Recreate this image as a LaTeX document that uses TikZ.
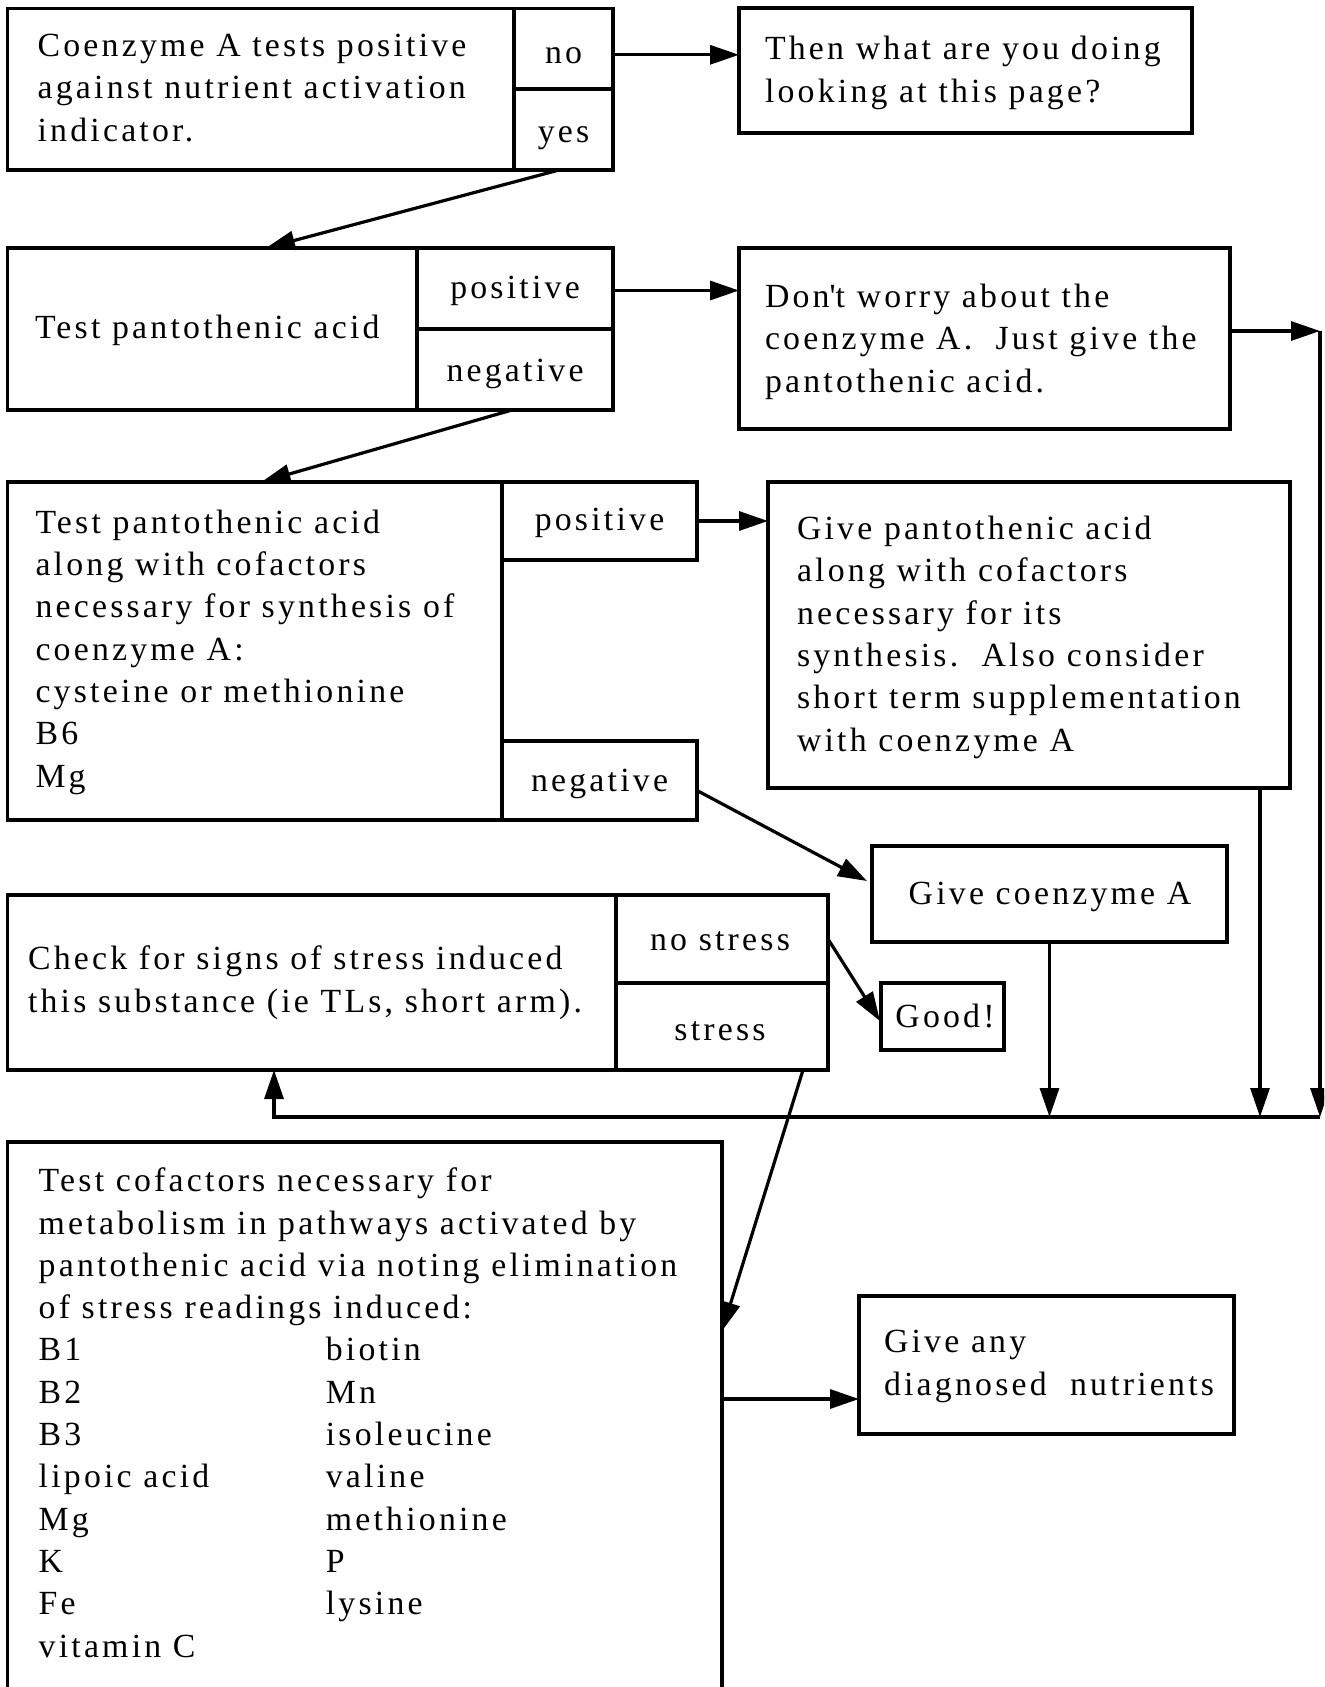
\documentclass[tikz,border=0pt]{standalone}
\usepackage{fontspec}
\setmainfont{Liberation Serif}[LetterSpace=9.5]
\usetikzlibrary{arrows.meta,calc,fit}

% two-column entry for the cofactor list
\newcommand\pairline[2]{\makebox[143.6pt][l]{#1}#2}

\begin{document}
\begin{tikzpicture}[x=0.5pt,y=-0.5pt,
  box/.style={draw, line width=1.6pt, inner sep=0pt, outer sep=0pt},
  % multi-line texts are placed by the baseline of their last line
  txt/.style={inner sep=0pt, outer sep=0pt, anchor=base west, align=left,
              font=\fontsize{16.9pt}{21.15pt}\selectfont},
  lbl/.style={inner sep=0pt, outer sep=0pt, anchor=base,
              font=\fontsize{16.9pt}{21.15pt}\selectfont},
  link/.style={line width=1.6pt, -{Triangle[length=14.5pt,width=9.5pt]}}]

\useasboundingbox (0,0) rectangle (1324,1687);
\fill[white] (0,0) rectangle (1324,1687);
\clip (0,0) rectangle (1324,1687);

% --- first question
\node[box, fit={(7.5,8.6)(514,170)}] (b1) {};
\node[box, fit={(514,8.6)(613,89)}] (b1no) {};
\node[box, fit={(514,89)(613,170)}] (b1yes) {};
\node[txt] (t1) at (37.6,141) {Coenzyme A tests positive\\against nutrient activation\\indicator.};
\node[lbl] (l1no) at (563.5,63) {no};
\node[lbl] (l1yes) at (563.5,142) {yes};

\node[box, fit={(739,8)(1192,133)}] (then) {};
\node[txt] (tthen) at (765,102) {Then what are you doing\\looking at this page?};

% --- pantothenic acid test
\node[box, fit={(7.5,248)(417,410)}] (b2) {};
\node[box, fit={(417,248)(613,329)}] (b2pos) {};
\node[box, fit={(417,329)(613,410)}] (b2neg) {};
\node[txt] (t2) at (35,338) {Test pantothenic acid};
\node[lbl] (l2pos) at (515,298) {positive};
\node[lbl] (l2neg) at (515,381) {negative};

\node[box, fit={(739,248)(1230,429)}] (worry) {};
\node[txt] (tworry) at (765,392) {Don\textquotesingle t worry about the\\coenzyme A.\ \ Just give the\\pantothenic acid.};

% --- pantothenic acid with cofactors
\node[box, fit={(7.5,482)(502,820)}] (b3) {};
\node[box, fit={(502,482)(697,560)}] (b3pos) {};
\node[box, fit={(502,741)(697,820)}] (b3neg) {};
\node[txt] (t3) at (35.5,787) {Test pantothenic acid\\along with cofactors\\necessary for synthesis of\\coenzyme A:\\cysteine or methionine\\B6\\Mg};
\node[lbl] (l3pos) at (599.5,530) {positive};
\node[lbl] (l3neg) at (599.5,791) {negative};

\node[box, fit={(768,482)(1290,788)}] (givepa) {};
\node[txt] (tgivepa) at (797,751) {Give pantothenic acid\\along with cofactors\\necessary for its\\synthesis.\ \ Also consider\\short term supplementation\\with coenzyme A};

\node[box, fit={(872,846)(1227,942)}] (givecoa) {};
\node[lbl] (tgivecoa) at (1050,904) {Give coenzyme A};

% --- stress check
\node[box, fit={(7.5,895)(616,1070)}] (check) {};
\node[box, fit={(616,895)(828,983)}] (nostress) {};
\node[box, fit={(616,983)(828,1070)}] (stress) {};
\node[txt] (tcheck) at (28,1012) {Check for signs of stress induced\\this substance (ie TLs, short arm).};
\node[lbl] (lnostress) at (720,950) {no stress};
\node[lbl] (lstress) at (720,1040) {stress};

\node[box, fit={(881,983)(1004,1050)}] (good) {};
\node[lbl] (tgood) at (945,1027) {Good!};

% --- cofactor testing
\node[box, fit={(7.5,1142)(722,1740)}] (cof) {};
\node[txt] (tcof) at (38.7,1657) {Test cofactors necessary for\\metabolism in pathways activated by\\pantothenic acid via noting elimination\\of stress readings induced:\\\pairline{B1}{biotin}\\\pairline{B2}{Mn}\\\pairline{B3}{isoleucine}\\\pairline{lipoic acid}{valine}\\\pairline{Mg}{methionine}\\\pairline{K}{P}\\\pairline{Fe}{lysine}\\vitamin C};

\node[box, fit={(859,1296)(1234,1434)}] (diag) {};
\node[txt] (tdiag) at (884,1395) {Give any\\diagnosed\ \ nutrients};

% --- connectors
\draw[link] ([yshift=-3pt]b1no.east) -- ([yshift=-3pt]b1no.east -| then.west);
\draw[link] ($(b1yes.south)+(-4.5,0)$) -- ($(b2.north west)+(258.5,0)$);
\draw[link] ([yshift=-1pt]b2pos.east) -- ([yshift=-1pt]b2pos.east -| worry.west);

\coordinate (rtop) at ($(worry.east)+(90,-7.5)$);
\coordinate (busL) at ($(check.south west)+(266.5,47)$);
\coordinate (busR) at (rtop |- busL);
\coordinate (gpout) at ($(givepa.south east)+(-30,0)$);
\draw[link] (worry.east |- rtop) -- (rtop);
\draw[link] (rtop) -- (busR);
\draw[link] (gpout) -- (gpout |- busL);
\draw[link] (givecoa.south) -- (givecoa.south |- busL);
\draw[link] (busR) -- (busL) -- (busL |- check.south);

\draw[link] ($(b2neg.south)+(-3,0)$) -- ($(b3.north west)+(254,0)$);
\draw[link] (b3pos.east) -- (b3pos.east -| givepa.west);
\draw[link] ($(b3neg.east)+(0,10)$) -- ($(givecoa.north west)+(-5,35)$);
\draw[link] (nostress.east) -- ($(good.north west)+(-1,38)$);
\draw[link] ($(stress.south east)+(-25,0)$) -- ($(cof.north east)+(0,189)$);
\coordinate (dgin) at ($(diag.north west)+(0,103)$);
\draw[link] (cof.east |- dgin) -- (dgin);

\end{tikzpicture}
\end{document}
